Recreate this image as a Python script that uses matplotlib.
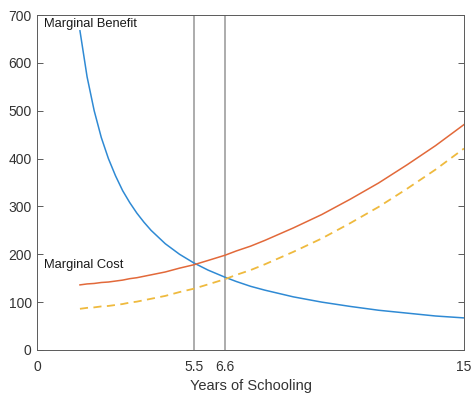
import matplotlib

matplotlib.use("Agg")
import matplotlib.pyplot as plt

plt.rcParams["font.family"] = ["Liberation Sans", "DejaVu Sans"]

# years of schooling sampled along the curves
years = [1.5, 1.75, 2.0, 2.25, 2.5, 2.75, 3.0, 3.25, 3.5, 3.75, 4.0, 4.5, 5.0,
         5.5, 6.0, 6.6, 7.0, 7.5, 8, 9, 10, 11, 12, 13, 14, 15]
marginal_benefit = [667, 571, 500, 444, 400, 364, 333, 308, 286, 267, 250, 222, 200,
                    182, 167, 152, 143, 133, 125, 111, 100, 91, 83, 77, 71, 67]
marginal_cost = [136, 138, 139, 141, 142, 144, 146, 149, 151, 154, 157, 163, 171,
                 178, 187, 198, 207, 217, 229, 255, 283, 315, 349, 387, 427, 471]
marginal_cost_low = [86, 88, 89, 91, 92, 94, 96, 99, 101, 104, 107, 113, 121,
                     128, 137, 148, 157, 167, 179, 205, 233, 265, 299, 337, 377, 421]
optima = [5.5, 6.6]
xticks = [0, 5.5, 6.6, 15]
xticklabels = ["0", "5.5", "6.6", "15"]
yticks = [0, 100, 200, 300, 400, 500, 600, 700]

AX_COLOR = "#5a5a5a"
TXT_COLOR = "#333333"

fig = plt.figure(figsize=(4.72, 3.95), dpi=100)
ax = fig.add_axes([0.079, 0.114, 0.904, 0.848])

for x in optima:
    ax.axvline(x, color="0.62", lw=1.2, zorder=1)

ax.plot(years, marginal_benefit, color="#2F8AD4", lw=1.1, zorder=3)
ax.plot(years, marginal_cost, color="#E2693A", lw=1.1, zorder=3)
ax.plot(years, marginal_cost_low, color="#EFBA3E", lw=1.3, ls=(0, (4.5, 3)), zorder=3)

ax.text(0.22, 681, "Marginal Benefit", fontsize=9.3, va="center", color="#1a1a1a")
ax.text(0.22, 178, "Marginal Cost", fontsize=9.3, va="center", color="#1a1a1a")

ax.set_xlim(0, 15)
ax.set_ylim(0, 700)
ax.set_xticks(xticks)
ax.set_xticklabels(xticklabels)
ax.set_yticks(yticks)
ax.set_xlabel("Years of Schooling", fontsize=10.5, color=TXT_COLOR, labelpad=4)

ax.tick_params(direction="in", length=4, width=0.7, colors=AX_COLOR,
               labelcolor=TXT_COLOR, labelsize=10, right=True)
# x ticks sit on the spines or on the vertical lines, so keep them hidden
ax.tick_params(axis="x", pad=7, length=0)
ax.tick_params(axis="y", pad=4)
for s in ax.spines.values():
    s.set_color(AX_COLOR)
    s.set_linewidth(0.7)

fig.savefig("out.png", dpi=100)
